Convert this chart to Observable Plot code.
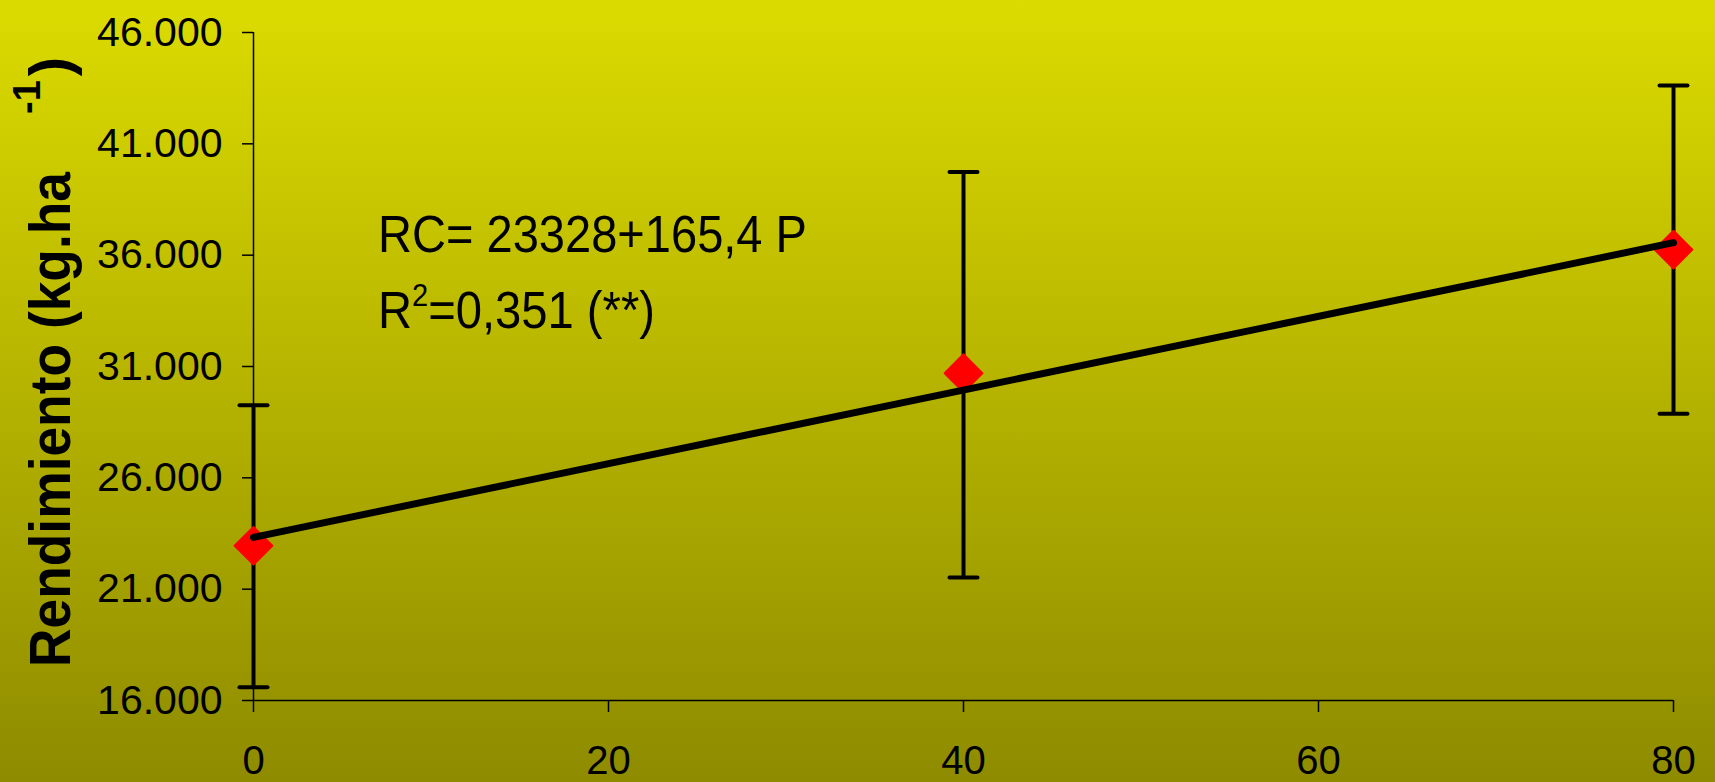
<!DOCTYPE html>
<html>
<head>
<meta charset="utf-8">
<script src="https://cdn.jsdelivr.net/npm/d3@7"></script>
<script src="https://cdn.jsdelivr.net/npm/@observablehq/plot@0.6"></script>
<style>
  html, body { margin: 0; padding: 0; }
  #wrap { width: 1715px; height: 782px; background: linear-gradient(to bottom, #dcdb00 0%, #8e8b00 100%); }
  svg { display: block; }
</style>
</head>
<body>
<div id="wrap"></div>
<script>
// Dose P (x) and yield values
const P = [0, 40, 80];
const rend = [22950, 30700, 36250];
const errLow = [16600, 21520, 28880];
const errHigh = [29260, 39740, 43620];
// Fitted regression line endpoints (RC = 23328 + 165,4 P)
const fitP = [0, 80];
const fitRend = [23328, 36560];
// Ticks
const xTicks = [0, 20, 40, 60, 80];
const yTicks = [16000, 21000, 26000, 31000, 36000, 41000, 46000];

const pts = P.map((p, i) => ({P: p, R: rend[i], lo: errLow[i], hi: errHigh[i]}));
const fit = fitP.map((p, i) => ({P: p, R: fitRend[i]}));

const capSymbol = {
  draw(ctx, size) { const h = 14; ctx.moveTo(-h, 0); ctx.lineTo(h, 0); }
};

const fmt = d => d3.format(",")(d).replace(/,/g, ".");

const chart = Plot.plot({
  width: 1715,
  height: 782,
  marginLeft: 253,
  marginRight: 42,
  marginTop: 32,
  marginBottom: 82,
  style: {background: "transparent", fontFamily: "Liberation Sans, Arial, sans-serif", color: "black"},
  x: {domain: [0, 80], ticks: xTicks},
  y: {domain: [16000, 46000], ticks: yTicks},
  marks: [
    Plot.axisY({ticks: yTicks, tickFormat: fmt, tickSize: 11, tickPadding: 20, fontSize: 41, label: null, strokeWidth: 1.5}),
    Plot.axisX({ticks: xTicks, tickSize: 12, tickPadding: 33, fontSize: 40, label: null, strokeWidth: 1.5}),
    Plot.ruleX([0], {y1: 16000, y2: 46000, stroke: "black", strokeWidth: 1.5}),
    Plot.ruleY([16000], {x1: 0, x2: 80, stroke: "black", strokeWidth: 1.5}),
    Plot.ruleX(pts, {x: "P", y1: "lo", y2: "hi", stroke: "black", strokeWidth: 4}),
    Plot.dot(pts, {x: "P", y: "lo", symbol: capSymbol, stroke: "black", strokeWidth: 4, strokeLinecap: "round", r: 10}),
    Plot.dot(pts, {x: "P", y: "hi", symbol: capSymbol, stroke: "black", strokeWidth: 4, strokeLinecap: "round", r: 10}),
    Plot.dot(pts, {x: "P", y: "R", symbol: "diamond2", fill: "red", stroke: "red", strokeWidth: 2, strokeLinejoin: "round", r: 17}),
    Plot.line(fit, {x: "P", y: "R", stroke: "black", strokeWidth: 7, strokeLinecap: "round"})
  ]
});

document.getElementById("wrap").appendChild(chart);

const svg = d3.select(chart);
// Y axis title with superscript
const yt = svg.append("text")
  .attr("transform", "translate(70,667) rotate(-90)")
  .attr("text-anchor", "start")
  .attr("font-family", "Liberation Sans, Arial, sans-serif")
  .attr("font-weight", "bold")
  .attr("font-size", 58)
  .attr("fill", "black");
yt.append("tspan").text("Rendimiento (kg.ha").attr("textLength", 495).attr("lengthAdjust", "spacingAndGlyphs");
yt.append("tspan").text("-1").attr("font-size", 38).attr("dx", 58).attr("dy", -30);
yt.append("tspan").text(")").attr("dx", 4).attr("dy", 30);

// Equation annotation
const eq = svg.append("g")
  .attr("text-anchor", "start")
  .attr("font-family", "Liberation Sans, Arial, sans-serif")
  .attr("fill", "black");
eq.append("text").attr("x", 378).attr("y", 252).attr("font-size", 52)
  .attr("textLength", 429).attr("lengthAdjust", "spacingAndGlyphs")
  .text("RC= 23328+165,4 P");
const r2 = eq.append("text").attr("x", 378).attr("y", 328).attr("font-size", 52)
  .attr("textLength", 277).attr("lengthAdjust", "spacingAndGlyphs");
r2.append("tspan").text("R");
r2.append("tspan").text("2").attr("font-size", 32).attr("dy", -22);
r2.append("tspan").text("=0,351 (**)").attr("dy", 22);
</script>
</body>
</html>
